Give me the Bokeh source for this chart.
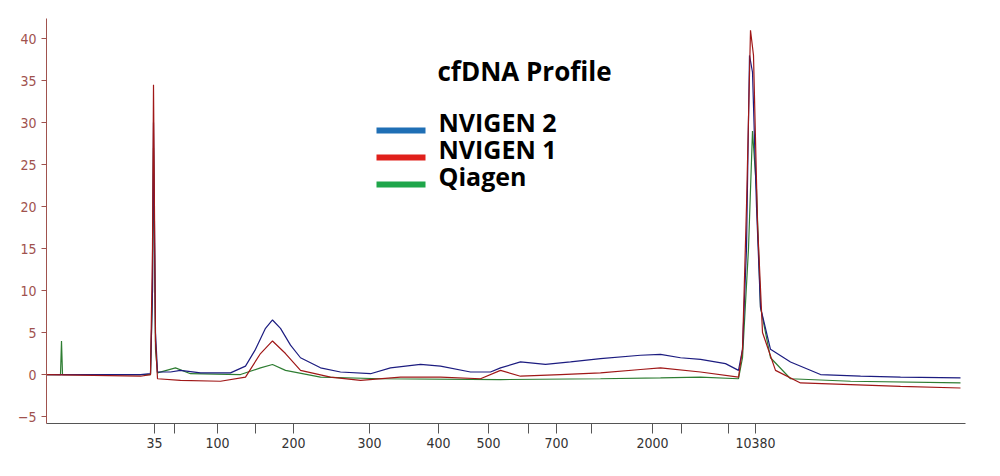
from bokeh.plotting import figure
from bokeh.models import Range1d, FixedTicker, Label, BoxAnnotation
from bokeh.embed import file_html
from bokeh.resources import INLINE

# x positions are on the instrument's migration scale (arbitrary units)
tick_pos = [154, 174, 217, 255, 293, 369, 438, 488, 528, 556, 591, 652, 681, 728, 755]
tick_lab = ["35", "", "100", "", "200", "300", "400", "500", "", "700", "", "2000", "", "", "10380"]

blue_x = [46,140,150,152,153,155,157,170,180,200,230,245,255,265,272,280,290,300,320,340,370,390,420,440,470,490,500,520,545,570,600,640,660,680,700,725,738,742,746,749,752,756,760,770,790,820,860,900,960]
blue_y = [0,0,0.1,10,30,5,0.3,0.3,0.5,0.2,0.2,1,3,5.5,6.5,5.5,3.5,2,0.8,0.3,0.1,0.8,1.2,1.0,0.3,0.3,0.8,1.5,1.2,1.5,1.9,2.3,2.4,2.0,1.8,1.3,0.5,3,15,38,36,20,8,3,1.5,0,-0.2,-0.3,-0.4]
red_x = [46,140,150,152,153,155,157,180,220,245,260,272,285,300,330,360,400,440,480,500,520,560,600,640,660,700,738,742,746,750,753,757,762,775,800,850,900,960]
red_y = [0,-0.2,0,15,34.5,4,-0.5,-0.7,-0.8,-0.3,2.5,4,2.5,0.5,-0.3,-0.7,-0.3,-0.3,-0.5,0.5,-0.2,0,0.2,0.6,0.8,0.3,-0.3,3,20,41,38,18,5,0.5,-1.0,-1.2,-1.4,-1.6]
green_x = [46,60,61,62,140,150,152,153,155,157,175,190,240,260,272,285,320,380,500,600,660,700,738,742,748,752,756,760,770,790,850,960]
green_y = [0,0,4,0,0,0,10,27,3,0.2,0.8,0.1,0,0.8,1.2,0.5,-0.3,-0.5,-0.6,-0.5,-0.4,-0.3,-0.5,2,15,29,22,8,2,-0.5,-0.8,-1.0]

series = ["NVIGEN 2", "NVIGEN 1", "Qiagen"]
legend_colors = ["#1f6fb5", "#e0201b", "#1fa64a"]

p = figure(width=984, height=460, output_backend="svg", toolbar_location=None,
           x_range=Range1d(46, 965), y_range=Range1d(-5.83, 42.4),
           min_border_left=46, min_border_right=19, min_border_top=18, min_border_bottom=37)
p.outline_line_color = None
p.grid.visible = False
p.background_fill_color = "white"

p.line(green_x, green_y, color="#2e7d32", line_width=1.2)
p.line(blue_x, blue_y, color="#1c1c80", line_width=1.2)
p.line(red_x, red_y, color="#a01818", line_width=1.2)

ax = p.xaxis[0]
ax.ticker = FixedTicker(ticks=tick_pos)
ax.major_label_overrides = {t: l for t, l in zip(tick_pos, tick_lab)}
ax.minor_tick_line_color = None
ax.major_tick_in = 0
ax.major_tick_out = 10
ax.axis_line_color = "#555555"
ax.major_tick_line_color = "#555555"
ax.major_label_text_color = "#333333"
ax.major_label_text_font = "DejaVu Sans Condensed"
ax.major_label_text_font_size = "14px"
ax.major_label_standoff = 4

ay = p.yaxis[0]
ay.ticker = FixedTicker(ticks=list(range(-5, 45, 5)))
ay.minor_tick_line_color = None
ay.major_tick_in = 0
ay.major_tick_out = 5
ay.axis_line_color = "#a0524e"
ay.major_tick_line_color = "#a0524e"
ay.major_label_text_color = "#a0524e"
ay.major_label_text_font = "DejaVu Sans Condensed"
ay.major_label_text_font_size = "14px"

# screen units here are relative to the plot frame
p.add_layout(Label(x=902, y=-27, x_units="screen", y_units="screen", text="[bp]",
                   text_font="DejaVu Sans Condensed", text_font_size="14px", text_color="#333333"))

p.add_layout(Label(x=391, y=335, x_units="screen", y_units="screen", text="cfDNA Profile",
                   text_font="Open Sans", text_font_style="bold", text_font_size="26px", text_color="black"))
for i, (name, c) in enumerate(zip(series, legend_colors)):
    yc = 293 - i * 27
    p.add_layout(BoxAnnotation(left=330, right=379, bottom=yc - 3, top=yc + 3,
                               left_units="screen", right_units="screen",
                               bottom_units="screen", top_units="screen",
                               fill_color=c, fill_alpha=1, line_color=None))
    p.add_layout(Label(x=392, y=yc - 8, x_units="screen", y_units="screen", text=name,
                       text_font="Open Sans", text_font_style="bold", text_font_size="25px", text_color="black"))

open("out.html", "w").write(file_html(p, INLINE))
